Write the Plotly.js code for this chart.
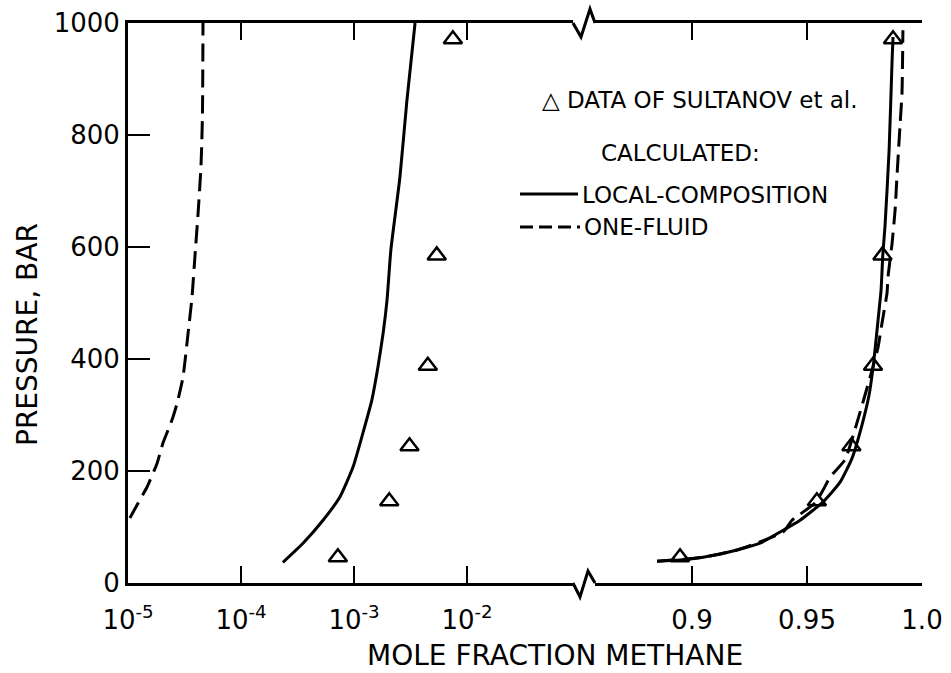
<!DOCTYPE html>
<html>
<head>
<meta charset="utf-8">
<script src="https://cdn.plot.ly/plotly-3.0.1.min.js"></script>
<style>html,body{margin:0;padding:0;background:#fff;}#chart{width:951px;height:673px;}</style>
</head>
<body>
<div id="chart"></div>
<script>
// ---- Data ----
// Experimental data of Sultanov et al. (pressure, bar)
var dataP = [46, 146, 244, 388, 585, 971];
// water-rich phase (left, log axis)
var dataLeftX = [7.2e-4, 2.05e-3, 3.1e-3, 4.5e-3, 5.4e-3, 7.5e-3];
// methane-rich phase (right, linear axis)
var dataRightX = [0.8948, 0.9543, 0.9693, 0.9787, 0.9828, 0.9874];

// Local-composition (solid) - left branch
var lcLeftX = [2.35e-4, 3.54e-4, 5.32e-4, 7.52e-4, 9.8e-4, 1.20e-3, 1.44e-3, 1.63e-3, 1.81e-3, 1.96e-3, 2.12e-3, 2.55e-3, 2.94e-3, 3.47e-3];
var lcLeftP = [37, 71, 112, 154, 207, 268, 327, 386, 446, 505, 595, 725, 862, 1000];
// One-fluid (dashed) - left branch
var ofLeftX = [1.04e-5, 1.23e-5, 1.47e-5, 1.81e-5, 2.04e-5, 2.45e-5, 2.72e-5, 3.07e-5, 3.40e-5, 3.68e-5, 3.92e-5, 4.16e-5, 4.43e-5, 4.56e-5, 4.61e-5];
var ofLeftP = [116, 143, 171, 214, 250, 291, 321, 368, 446, 509, 586, 657, 746, 836, 1000];

// Local-composition (solid) - right branch
var lcRightX = [0.8848, 0.8948, 0.9048, 0.9196, 0.9296, 0.9383, 0.9470, 0.9570, 0.9644, 0.9696, 0.9739, 0.9770, 0.9791, 0.9809, 0.9822, 0.9830, 0.9839, 0.9857, 0.9870, 0.9874];
var lcRightP = [39, 41, 46, 59, 71, 91, 112, 145, 180, 223, 282, 336, 398, 470, 523, 589, 636, 773, 934, 975];
// One-fluid (dashed) - right branch
var ofRightX = [0.8848, 0.9048, 0.9196, 0.9396, 0.9435, 0.9535, 0.9570, 0.9600, 0.9665, 0.9720, 0.9787, 0.9809, 0.9826, 0.9848, 0.9852, 0.9870, 0.9883, 0.9891, 0.9904, 0.9913, 0.9917];
var ofRightP = [39, 46, 59, 91, 112, 143, 166, 189, 220, 290, 386, 421, 464, 518, 546, 607, 666, 725, 814, 875, 987];

// Tick labels
var leftTickVals = [1e-5, 1e-4, 1e-3, 1e-2];
var leftTickText = ['10<sup>-5</sup>', '10<sup>-4</sup>', '10<sup>-3</sup>', '10<sup>-2</sup>'];
var rightTickVals = [0.9, 0.95, 1.0];
var rightTickText = ['0.9', '0.95', '1.0'];
var yTickVals = [0, 200, 400, 600, 800, 1000];
var yTickText = ['0', '200', '400', '600', '800', '1000'];

// ---- Layout helpers (pixel -> paper) ----
var L = 128, R = 922, T = 23, B = 583;
function px(x) { return (x - L) / (R - L); }
function py(y) { return (B - y) / (B - T); }

var FONT = 'DejaVu Sans, Arial, sans-serif';
var lineStyle = {color: 'black', width: 3};
var dashStyle = {color: 'black', width: 3, dash: '18px,8px'};
var markerStyle = {symbol: 'triangle-up-open', size: 16, color: 'black', line: {color: 'black', width: 2.5}};
var sm = {shape: 'spline', smoothing: 0.5};

var traces = [
  {x: lcLeftX, y: lcLeftP, xaxis: 'x', yaxis: 'y', mode: 'lines', line: Object.assign({}, sm, lineStyle), name: 'LOCAL-COMPOSITION'},
  {x: ofLeftX, y: ofLeftP, xaxis: 'x', yaxis: 'y', mode: 'lines', line: Object.assign({}, sm, dashStyle), name: 'ONE-FLUID'},
  {x: lcRightX, y: lcRightP, xaxis: 'x2', yaxis: 'y', mode: 'lines', line: Object.assign({}, sm, lineStyle), name: 'LOCAL-COMPOSITION'},
  {x: ofRightX, y: ofRightP, xaxis: 'x2', yaxis: 'y', mode: 'lines', line: Object.assign({}, sm, dashStyle), name: 'ONE-FLUID'},
  {x: dataLeftX, y: dataP, xaxis: 'x', yaxis: 'y', mode: 'markers', marker: markerStyle, name: 'DATA OF SULTANOV et al.', cliponaxis: false},
  {x: dataRightX, y: dataP, xaxis: 'x2', yaxis: 'y', mode: 'markers', marker: markerStyle, name: 'DATA OF SULTANOV et al.', cliponaxis: false}
];

var xLeftEnd = 573, xRightStart = 595;
var tickFont = {family: FONT, size: 26, color: 'black'};
var commonX = {
  showline: true, linecolor: 'black', linewidth: 3, mirror: 'ticks',
  ticks: 'inside', ticklen: 17, tickwidth: 2.5, tickcolor: 'black',
  ticklabelstandoff: 12,
  showgrid: false, zeroline: false, tickfont: tickFont, anchor: 'y', fixedrange: true
};

var layout = {
  width: 951, height: 673,
  margin: {l: L, r: 951 - R, t: T, b: 673 - B, pad: 0},
  paper_bgcolor: 'white', plot_bgcolor: 'white',
  showlegend: false,
  font: {family: FONT, color: 'black'},
  xaxis: Object.assign({}, commonX, {
    type: 'log', domain: [0, px(xLeftEnd)],
    range: [-5, -5 + (xLeftEnd - L) / 113],
    tickmode: 'array', tickvals: leftTickVals, ticktext: leftTickText
  }),
  xaxis2: Object.assign({}, commonX, {
    type: 'linear', domain: [px(xRightStart), 1],
    range: [0.9 - (692 - xRightStart) / 2300, 1.0],
    tickmode: 'array', tickvals: rightTickVals, ticktext: rightTickText
  }),
  yaxis: {
    range: [0, 1000], anchor: 'x', side: 'left',
    tickmode: 'array', tickvals: yTickVals, ticktext: yTickText,
    showline: true, linecolor: 'black', linewidth: 3,
    ticks: 'inside', ticklen: 22, tickwidth: 2.5, tickcolor: 'black',
    showgrid: false, zeroline: false, tickfont: tickFont, fixedrange: true
  },
  yaxis2: {
    range: [0, 1000], overlaying: 'y', anchor: 'x2', side: 'right',
    tickmode: 'array', tickvals: [200, 400, 600, 800],
    showticklabels: false,
    showline: true, linecolor: 'black', linewidth: 3,
    ticks: 'inside', ticklen: 22, tickwidth: 2.5, tickcolor: 'black',
    showgrid: false, zeroline: false, fixedrange: true
  },
  shapes: [
    // axis break zigzags
    {type: 'path', xref: 'paper', yref: 'paper',
     path: 'M' + px(xLeftEnd) + ',' + py(583) + ' L' + px(580) + ',' + py(597) + ' L' + px(588) + ',' + py(571) + ' L' + px(xRightStart) + ',' + py(583),
     line: {color: 'black', width: 3}},
    {type: 'path', xref: 'paper', yref: 'paper',
     path: 'M' + px(xLeftEnd) + ',' + py(23) + ' L' + px(581) + ',' + py(37) + ' L' + px(590) + ',' + py(9) + ' L' + px(xRightStart) + ',' + py(23),
     line: {color: 'black', width: 3}},
    // legend line samples
    {type: 'line', xref: 'paper', yref: 'paper', x0: px(520), x1: px(578), y0: py(194), y1: py(194), line: {color: 'black', width: 3}},
    {type: 'line', xref: 'paper', yref: 'paper', x0: px(520), x1: px(580), y0: py(227), y1: py(227), line: {color: 'black', width: 3, dash: '13px,6px'}}
  ],
  annotations: [
    {xref: 'paper', yref: 'paper', x: px(540), y: py(100), xanchor: 'left', yanchor: 'middle', showarrow: false,
     text: '\u25B3 DATA OF SULTANOV et al.', font: {family: FONT, size: 23, color: 'black'}},
    {xref: 'paper', yref: 'paper', x: px(599), y: py(153), xanchor: 'left', yanchor: 'middle', showarrow: false,
     text: 'CALCULATED:', font: {family: FONT, size: 23, color: 'black'}},
    {xref: 'paper', yref: 'paper', x: px(580), y: py(195), xanchor: 'left', yanchor: 'middle', showarrow: false,
     text: 'LOCAL-COMPOSITION', font: {family: FONT, size: 23, color: 'black'}},
    {xref: 'paper', yref: 'paper', x: px(582), y: py(227), xanchor: 'left', yanchor: 'middle', showarrow: false,
     text: 'ONE-FLUID', font: {family: FONT, size: 23, color: 'black'}},
    {xref: 'paper', yref: 'paper', x: px(555), y: py(655), xanchor: 'center', yanchor: 'middle', showarrow: false,
     text: 'MOLE FRACTION METHANE', font: {family: FONT, size: 28, color: 'black'}},
    {xref: 'paper', yref: 'paper', x: px(27), y: py(334), xanchor: 'center', yanchor: 'middle', showarrow: false, textangle: -90,
     text: 'PRESSURE, BAR', font: {family: FONT, size: 28, color: 'black'}}
  ]
};

Plotly.newPlot('chart', traces, layout, {displayModeBar: false, staticPlot: true});
</script>
</body>
</html>
